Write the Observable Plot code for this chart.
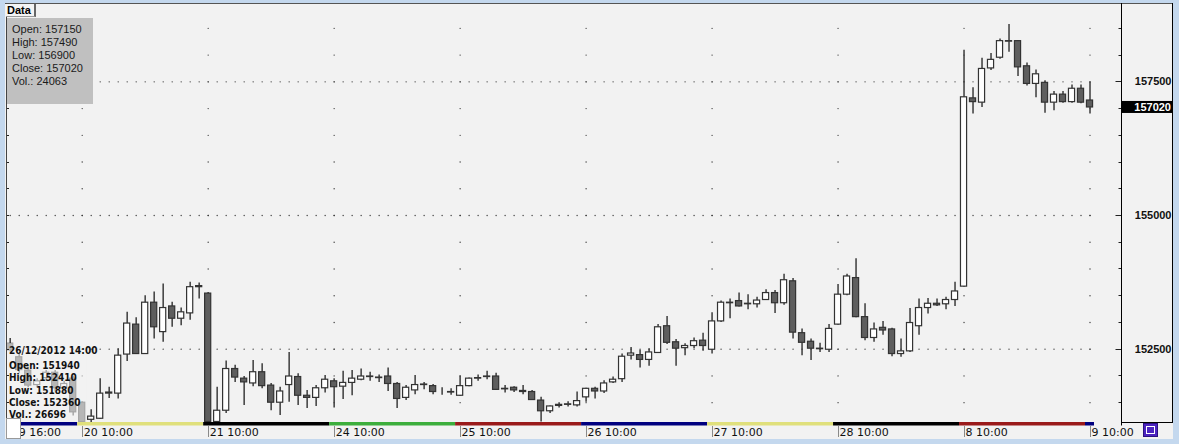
<!DOCTYPE html>
<html><head><meta charset="utf-8">
<script src="https://cdn.jsdelivr.net/npm/d3@7"></script>
<script src="https://cdn.jsdelivr.net/npm/@observablehq/plot@0.6"></script>
<style>
html,body{margin:0;padding:0;background:#c4d8ee;}
#wrap{position:relative;width:1179px;height:444px;overflow:hidden;background:#c4d8ee;}
#panel{position:absolute;left:5px;top:3px;width:1168px;height:436px;background:#f2f2f2;}
#chart{position:absolute;left:0;top:0;}
.ov{position:absolute;white-space:nowrap;}
#tab{left:6px;top:4px;width:27px;height:12px;background:#f4f4f4;border-right:2px solid #666;border-bottom:1px solid #999;font:bold 11px "Liberation Sans",Arial,sans-serif;line-height:12px;padding-left:1px;color:#000;}
#info{left:7px;top:18px;width:86px;height:86px;background:#c0c0c0;}
.il{position:absolute;left:5px;font:11px "Liberation Sans",Arial,sans-serif;color:#1a1a1a;line-height:13px;}
.bl{position:absolute;left:9px;font:bold 10px "DejaVu Sans Condensed","Liberation Sans",sans-serif;color:#111;line-height:12px;}
#wbox{left:6px;top:418px;width:13px;height:19px;background:#fff;border:1px solid #999;}
#icon{left:1143px;top:423px;width:13px;height:12px;background:#4b23c0;border:1px solid #2a1080;}
#icon i{position:absolute;left:2px;top:2px;width:7px;height:6px;border:1px solid #fff;}
</style></head>
<body>
<div id="wrap"><div id="panel"></div><div id="chart"></div></div>
<script>
// ---- data (hourly candles) ----
const days = ["19","20","21","24","25","26","27","28","8","9"];
const dayFirstHour = [16,10,10,10,10,10,10,10,10,10];
const dayLastHour  = [23,23,23,23,23,23,23,23,23,10];
const dayColors = ["#00007f","#e0e07c","#000000","#3cae3c","#9a1a1a","#00007f","#e0e07c","#000000","#9a1a1a","#00007f"];

const opens = [152600,152350,152100,151830,151960,152060,151770,151950,151500,151180,
151200,151670,151670,152400,152960,152410,153370,152820,153300,153070,
153170,153660,153540,151140,151350,152130,151950,151860,152070,151820,
151500,151830,151980,151630,151590,151770,151900,151800,151870,151930,
151980,151970,151990,151850,151590,151730,151830,151810,151710,151690,
151630,151810,151950,151980,151990,151760,151780,151720,151700,151540,
151340,151440,151460,151450,151600,151760,151710,151880,151940,152380,
152390,152300,152430,152930,152630,152520,152560,152660,152490,153020,
153360,153400,153340,153340,153420,153550,153360,153770,152800,152640,
152500,152490,152960,153520,153830,153100,152710,152900,152870,152410,
152460,152930,153270,153350,153340,153420,153670,157190,157110,157750,
157950,158250,158260,157790,157460,157480,157110,157260,157120,157370,
157150];
const highs = [152700,152400,152150,151950,152100,152100,151900,152000,151520,151370,
151950,151790,152510,153190,153090,153500,153570,153720,153380,153270,
153750,153740,153560,151790,152280,152200,151990,152290,152230,151860,
151790,152440,152040,151730,151820,152010,151950,152090,152100,152130,
152070,152020,152150,151880,151820,152010,151880,151840,151780,151760,
152000,151960,152020,152090,152050,151820,151800,151820,151730,151600,
151440,151500,151520,151700,151770,151790,151910,151980,152410,152530,
152480,152510,152960,153110,152680,152600,152710,152800,153180,153400,
153440,153550,153520,153470,153610,153600,153900,153820,152880,152690,
152610,152960,153710,153900,154190,153350,152990,153020,152890,152690,
153260,153440,153450,153440,153470,153750,158090,157390,157940,158030,
158300,158570,158270,157850,157720,157520,157320,157320,157440,157440,
157490];
const lows = [152450,152050,151780,151780,151900,151700,151700,151250,151120,151130,
151190,151580,151570,152270,152400,152400,152690,152630,152910,152940,
153040,153440,151130,151130,151300,151880,151450,151800,151760,151350,
151260,151510,151450,151390,151430,151680,151400,151560,151630,151910,
151900,151880,151710,151390,151540,151650,151740,151650,151640,151640,
151620,151800,151900,151930,151730,151680,151690,151650,151540,151140,
151300,151400,151420,151420,151510,151570,151670,151860,151880,152300,
152150,152180,152420,152590,152180,152380,152510,152460,152410,153000,
153070,153290,153240,153270,153410,153170,153320,152690,152380,152290,
152440,152440,152950,153500,153090,152660,152630,152760,152360,152350,
152440,152760,153160,153300,153240,153300,153660,156900,157020,157710,
157920,158050,157600,157420,157200,156910,156960,157100,157100,157090,
156900];
const closes = [152480,152110,151820,151900,152060,151770,151850,151320,151140,151240,
151670,151690,152380,152980,152410,153370,152910,153270,153070,153190,
153660,153680,151140,151350,152130,151970,151880,152070,151810,151500,
151710,151990,151630,151590,151770,151930,151790,151870,151950,151990,
151990,151960,151850,151570,151780,151830,151840,151700,151710,151700,
151810,151950,151960,151990,151740,151750,151730,151700,151550,151340,
151430,151460,151470,151530,151760,151710,151860,151930,152360,152420,
152300,152440,152910,152620,152510,152560,152650,152560,153020,153370,
153370,153300,153350,153410,153550,153360,153790,152810,152620,152510,
152510,152880,153520,153860,153100,152710,152870,152850,152410,152460,
152990,153270,153350,153320,153420,153580,157210,157120,157740,157910,
158260,158260,157770,157460,157640,157110,157260,157120,157370,157110,
157020];

const yMajor = [152500, 155000, 157500];
const yMinor = d3.range(151500, 158501, 500);
const lastInfo = {open: 157150, high: 157490, low: 156900, close: 157020, vol: 24063};
const hoverInfo = {date: "26/12/2012 14:00", open: 151940, high: 152410, low: 151880, close: 152360, vol: 26696};

// ---- build table ----
const candles = [];
const dayTicks = [];
const dayRanges = [];
days.forEach((d, k) => {
  const start = candles.length;
  for (let h = dayFirstHour[k]; h <= dayLastHour[k]; h++) {
    const i = candles.length;
    candles.push({i, open: opens[i], high: highs[i], low: lows[i], close: closes[i]});
  }
  dayTicks.push({i: start, label: `${d} ${String(dayFirstHour[k]).padStart(2,"0")}:00`});
  dayRanges.push({first: start, last: candles.length - 1, color: dayColors[k]});
});
const up = candles.filter(d => d.close >= d.open);
const down = candles.filter(d => d.close < d.open);
const hGrid = d3.cross(candles.map(d => d.i), yMajor);
const vGrid = d3.cross(dayTicks.slice(1).map(d => d.i), yMinor);

const chart = Plot.plot({
  width: 1179, height: 444,
  marginLeft: 7, marginRight: 58, marginTop: 4, marginBottom: 22,
  x: {domain: [-0.3, 123.5], axis: null},
  y: {domain: [151130, 158945], axis: null},
  style: {background: "transparent", overflow: "visible"},
  marks: [
    Plot.dot(hGrid, {x: d => d[0], y: d => d[1], r: 0.65, fill: "#333", stroke: null}),
    Plot.dot(vGrid, {x: d => d[0], y: d => d[1], r: 0.65, fill: "#333", stroke: null}),
    Plot.ruleX(candles, {x: "i", y1: "low", y2: "high", stroke: "#3c3c3c", strokeWidth: 1.5}),
    Plot.rect(up, {x1: d => d.i - 0.34, x2: d => d.i + 0.34, y1: "open", y2: "close", fill: "#ffffff", stroke: "#333", strokeWidth: 1.2}),
    Plot.rect(down, {x1: d => d.i - 0.34, x2: d => d.i + 0.34, y1: "close", y2: "open", fill: "#5e5e5e", stroke: "#333", strokeWidth: 1.2}),
    Plot.text(yMajor, {y: d => d, text: d => String(d), frameAnchor: "right", dx: 50, textAnchor: "end",
      fontFamily: "Liberation Sans, Arial, sans-serif", fontWeight: "bold", fontSize: 11, fill: "#111"}),
    Plot.text(dayTicks, {x: "i", text: "label", frameAnchor: "bottom", dy: 10, dx: 1.5, textAnchor: "start", lineAnchor: "middle",
      fontFamily: "DejaVu Sans, sans-serif", fontSize: 11, fill: "#111"})
  ]
});
document.getElementById("chart").appendChild(chart);

// ---- decorations positioned through the plot's scales ----
const sx = chart.scale("x"), sy = chart.scale("y");
const svg = d3.select(chart);
const g = svg.append("g");
// fade under the hover label
g.append("rect").attr("x", 7).attr("y", 343).attr("width", sx.apply(8.5) - 7).attr("height", 79)
  .attr("fill", "#f2f2f2").attr("opacity", 0.6);
// left / right inner ticks
yMinor.forEach(v => {
  const y = Math.round(sy.apply(v)) + 0.5;
  g.append("line").attr("x1", 7).attr("x2", 9).attr("y1", y).attr("y2", y).attr("stroke", "#222");
  const len = yMajor.includes(v) ? 5.5 : 2.5;
  g.append("line").attr("x1", 1121 - len).attr("x2", 1121).attr("y1", y).attr("y2", y).attr("stroke", "#222");
});
// frame lines
const ln = (x1, y1, x2, y2, c) => g.append("line").attr("x1", x1).attr("y1", y1).attr("x2", x2).attr("y2", y2).attr("stroke", c || "#111");
ln(6.5, 3, 6.5, 422, "#444");
ln(5, 3.5, 1173, 3.5, "#555");
ln(1121.5, 3, 1121.5, 425.5, "#000");
ln(1172.5, 3, 1172.5, 422.5, "#000");
ln(1121, 422.5, 1173, 422.5, "#000");
// day colour bands
dayRanges.forEach(r => {
  const x1 = Math.max(7, sx.apply(r.first - 0.5)), x2 = Math.min(1121, sx.apply(r.last + 0.5));
  g.append("rect").attr("x", x1).attr("y", 422).attr("width", x2 - x1).attr("height", 3.5).attr("fill", r.color);
});
// time tick lines
dayTicks.forEach(t => {
  const x = Math.round(sx.apply(t.i)) + 0.5;
  ln(x, 426, x, 437, "#8a8a8a");
});
// last price box
const yc = sy.apply(lastInfo.close);
g.append("rect").attr("x", 1122).attr("y", yc - 6).attr("width", 50.5).attr("height", 12).attr("fill", "#000");
g.append("text").attr("x", 1171).attr("y", yc).attr("dy", "0.35em").attr("text-anchor", "end")
  .attr("fill", "#fff").attr("font-family", "Liberation Sans, Arial, sans-serif").attr("font-weight", "bold").attr("font-size", 11)
  .text(String(lastInfo.close));

// ---- HTML overlays ----
const wrap = document.getElementById("wrap");
function add(html) { wrap.insertAdjacentHTML("beforeend", html); }
add(`<div id="tab" class="ov">Data</div>`);
const infoLines = [`Open: ${lastInfo.open}`, `High: ${lastInfo.high}`, `Low: ${lastInfo.low}`, `Close: ${lastInfo.close}`, `Vol.: ${lastInfo.vol}`];
add(`<div id="info" class="ov">${infoLines.map((t, k) => `<div class="il" style="top:${4.5 + k * 13}px">${t}</div>`).join("")}</div>`);
const hov = [hoverInfo.date, `Open: ${hoverInfo.open}`, `High: ${hoverInfo.high}`, `Low: ${hoverInfo.low}`, `Close: ${hoverInfo.close}`, `Vol.: ${hoverInfo.vol}`];
const hovTop = [345, 360, 372, 384.5, 397, 409];
hov.forEach((t, k) => add(`<div class="bl" style="top:${hovTop[k]}px">${t}</div>`));
add(`<div id="wbox" class="ov"></div>`);
add(`<div id="icon" class="ov"><i></i></div>`);
</script>
</body></html>
